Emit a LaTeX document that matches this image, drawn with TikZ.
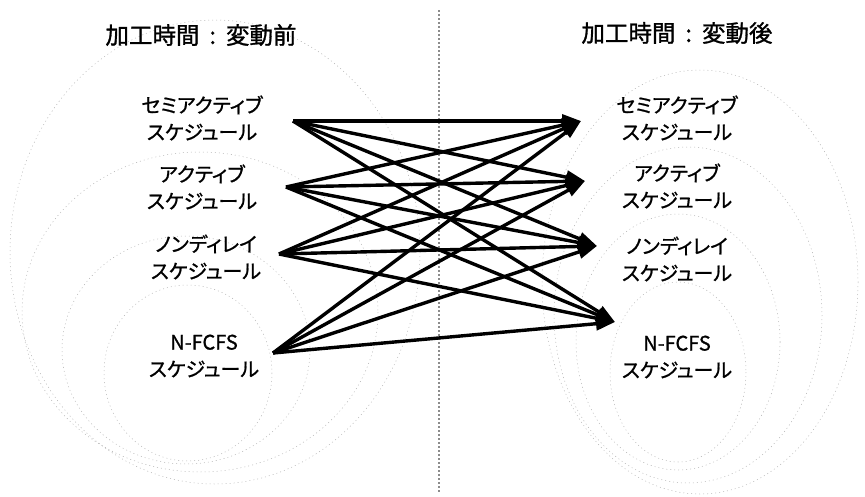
\documentclass[tikz,border=0pt]{standalone}
\usepackage{fontspec}
\setmainfont{Noto Sans CJK JP}[RawFeature={embolden=1.2}]
\newfontfamily\labfont{Noto Sans CJK JP}[RawFeature={embolden=1.0;+palt}]
\usetikzlibrary{arrows.meta}
\tikzset{
  setline/.style={draw=black!30, line width=0.5pt, dash pattern=on 1pt off 3pt},
  title/.style={font=\fontsize{23.5}{28}\selectfont, inner sep=0pt},
  label/.style={font=\labfont\fontsize{20}{27}\selectfont, align=center, inner sep=0pt},
  arr/.style={line width=3.4pt, -{Triangle[length=19pt,width=13pt]}},
  divider/.style={draw=black!45, line width=2pt, dash pattern=on 2pt off 2pt}
}
\begin{document}
\begin{tikzpicture}[x=1pt,y=-1pt]
\useasboundingbox (0,0) rectangle (865,496);
% set ellipses left
\draw[setline] (215,252) ellipse [x radius=205, y radius=232];
\draw[setline] (200,312) ellipse [x radius=178, y radius=160];
\draw[setline] (186,350) ellipse [x radius=124, y radius=114];
\draw[setline] (188,373) ellipse [x radius=84, y radius=88];
% set ellipses right
\draw[setline] (700,282) ellipse [x radius=158, y radius=212];
\draw[setline] (688,315) ellipse [x radius=134, y radius=168];
\draw[setline] (678,342) ellipse [x radius=102, y radius=128];
\draw[setline] (678,372) ellipse [x radius=68, y radius=90];
% divider
\coordinate (dtop) at (439,10);
\coordinate (dbot) at (439,492);
\draw[divider] (dtop) -- (dbot);
% titles
\node[title] (tl) at (201,35) {加工時間\hspace{10pt}:\hspace{10pt}変動前};
\node[title] (tr) at (677,33) {加工時間\hspace{10pt}:\hspace{10pt}変動後};
% labels left
\node[label] (a1) at (202,118) {セミアクティブ\\スケジュール};
\node[label] (a2) at (202,187) {アクティブ\\スケジュール};
\node[label] (a3) at (206,257) {ノンディレイ\\スケジュール};
\node[label] (a4) at (204,356) {N-FCFS\\スケジュール};
% labels right
\node[label] (b1) at (677,118) {セミアクティブ\\スケジュール};
\node[label] (b2) at (677,186) {アクティブ\\スケジュール};
\node[label] (b3) at (677,259) {ノンディレイ\\スケジュール};
\node[label] (b4) at (677,357) {N-FCFS\\スケジュール};
% arrow ends
\coordinate (l1) at (293,121);
\coordinate (l2) at (286,187);
\coordinate (l3) at (279,254);
\coordinate (l4) at (273,353);
\coordinate (r1) at (581,121);
\coordinate (r2) at (585,181);
\coordinate (r3) at (597,246);
\coordinate (r4) at (615,322);
\foreach \i in {1,2,3,4}{
  \foreach \j in {1,2,3,4}{
    \draw[arr] (l\i) -- (r\j);
  }
}
\end{tikzpicture}
\end{document}
